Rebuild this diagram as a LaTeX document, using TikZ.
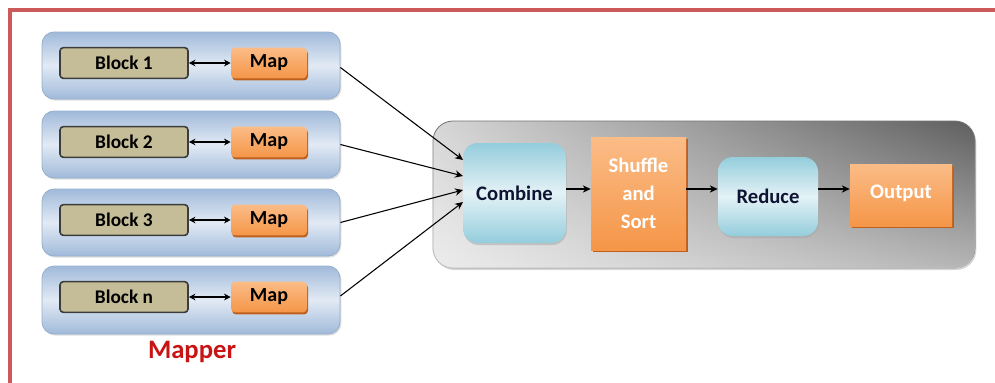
\documentclass[tikz,border=0pt]{standalone}
\usepackage{fontspec}
\setmainfont{Carlito}
\usetikzlibrary{fit,shadows,arrows.meta,fadings}

\definecolor{frameRed}{RGB}{205,90,90}
\definecolor{mapperOut}{RGB}{160,186,218}
\definecolor{mapperIn}{RGB}{226,234,244}
\definecolor{mapperLine}{RGB}{150,175,205}
\definecolor{blockFill}{RGB}{196,189,152}
\definecolor{blockLine}{RGB}{60,60,60}
\definecolor{orangeTop}{RGB}{251,188,135}
\definecolor{orangeMid}{RGB}{245,150,72}
\definecolor{orangeDark}{RGB}{190,95,30}
\definecolor{cyanOut}{RGB}{148,205,220}
\definecolor{cyanIn}{RGB}{228,242,246}
\definecolor{grayLight}{RGB}{215,215,215}
\definecolor{grayDark}{RGB}{95,95,95}
\definecolor{mapperText}{RGB}{200,20,20}
\definecolor{navyText}{RGB}{15,20,50}

\tikzset{
  mapperbox/.style={rounded corners=9pt, draw=mapperLine, line width=0.6pt,
    shading angle=160, top color=mapperOut, bottom color=mapperOut, middle color=mapperIn,
    drop shadow={shadow xshift=1pt, shadow yshift=-1.2pt, fill=black!25}, inner sep=0pt},
  blockbox/.style={rounded corners=2.5pt, draw=blockLine, line width=1.2pt, fill=blockFill,
    inner sep=0pt, font=\bfseries\fontsize{14.5}{16}\selectfont},
  mapbox/.style={rounded corners=3pt, top color=orangeTop, bottom color=orangeMid,
    drop shadow={shadow xshift=0.8pt, shadow yshift=-1.6pt, fill=orangeDark, opacity=1},
    inner sep=0pt, font=\bfseries\fontsize{15}{17}\selectfont},
  container/.style={rounded corners=15pt, draw=black!55, line width=0.6pt,
    left color=grayLight, right color=grayDark,
    drop shadow={shadow xshift=1pt, shadow yshift=-1.5pt, fill=black!30}, inner sep=0pt},
  cyanbox/.style={rounded corners=11pt, shading angle=135, top color=cyanOut,
    bottom color=cyanOut, middle color=cyanIn,
    drop shadow={shadow xshift=0.6pt, shadow yshift=-1.5pt, fill=black!35}, inner sep=0pt},
  orangebox/.style={top color=orangeTop, bottom color=orangeMid, shading angle=0,
    drop shadow={shadow xshift=1.2pt, shadow yshift=-1.8pt, fill=orangeDark, opacity=1},
    inner sep=0pt},
  darklabel/.style={font=\bfseries\fontsize{15.5}{17}\selectfont, text=navyText},
  lightlabel/.style={font=\bfseries\fontsize{15.5}{21}\selectfont, text=white, align=center},
  flow/.style={-{Stealth[length=6pt,width=5.5pt]}, line width=0.8pt},
  twoway/.style={{Stealth[length=5pt,width=5pt]}-{Stealth[length=5pt,width=5pt]}, line width=0.8pt},
}

\begin{document}
\begin{tikzpicture}[x=0.75pt,y=-0.75pt]
  \useasboundingbox (0,0) rectangle (995,382);
  \fill[white] (0,0) rectangle (995,382);

  % outer frame, open at the bottom and right
  \draw[frameRed, line width=2.6pt] (10,384) -- (10,10) -- (997,10);

  % mapper rows
  \foreach \i/\yt/\yb/\lab in {1/32/99/Block 1, 2/111/178/Block 2, 3/189/256/Block 3, 4/266/334/Block n} {
    \node[mapperbox, fit={(42,\yt) (340,\yb)}] (row\i) {};
    \node[blockbox, minimum width=96pt, minimum height=23pt] (blk\i) at (124,\yt+31) {\lab};
    \node[mapbox, minimum width=57pt, minimum height=23pt] (map\i) at (269,\yt+31) {Map};
    \draw[twoway] (blk\i.east) -- (map\i.west);
  }

  \node[font=\bfseries\fontsize{20}{22}\selectfont, text=mapperText] (mapper) at (192,352) {Mapper};

  % reduce side: container, darker towards the top right
  \node[container, fit={(433,121) (975,268)}] (ctr) {};
  \fill[white, opacity=0.55, path fading=north, rounded corners=15pt]
    (ctr.south west) rectangle (ctr.north east);

  \node[cyanbox, fit={(463,143) (566,243)}] (combine) {};
  \node[darklabel] at (combine.center) {Combine};
  \node[orangebox, fit={(591,137) (686,250)}] (shuffle) {};
  \node[lightlabel] at (shuffle.center) {Shuffle\\and\\Sort};
  \node[cyanbox, fit={(718,157) (818,236)}] (reduce) {};
  \node[darklabel] at (reduce.center) {Reduce};
  \node[orangebox, fit={(850,164) (952,226)}] (output) {};
  \node[lightlabel] at ([yshift=1]output.center) {Output};

  % map outputs into combine
  \coordinate (in1) at (463,160);
  \coordinate (in2) at (463,176);
  \coordinate (in3) at (463,190);
  \coordinate (in4) at (463,202);
  \draw[flow] (row1.east) ++(0,2) -- (in1);
  \draw[flow] (row2.east) -- (in2);
  \draw[flow] (row3.east) -- (in3);
  \draw[flow] (row4.east) ++(0,-4) -- (in4);

  \draw[flow] (combine.east |- 0,189) -- (shuffle.west |- 0,189);
  \draw[flow] (shuffle.east |- 0,189) -- (reduce.west |- 0,189);
  \draw[flow] (reduce.east |- 0,189) -- (output.west |- 0,189);
\end{tikzpicture}
\end{document}
